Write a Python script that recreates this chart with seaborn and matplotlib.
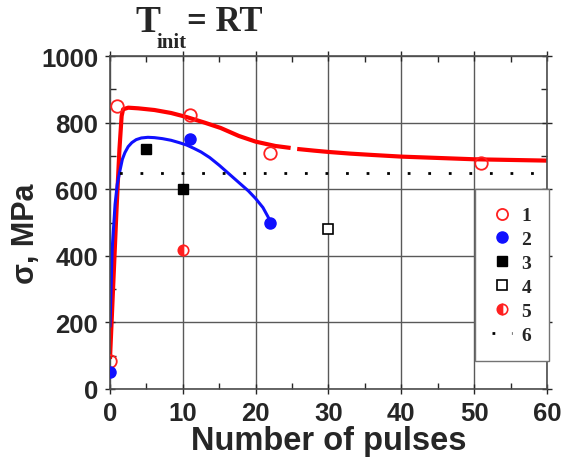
import numpy as np
import matplotlib
matplotlib.use("Agg")
import matplotlib.pyplot as plt
from matplotlib.lines import Line2D
from matplotlib.ticker import MultipleLocator
import seaborn as sns

# measured points (number of pulses, stress in MPa)
s1_x = [0, 1, 11, 22, 51]
s1_y = [85, 850, 823, 710, 680]
s2_x = [0, 11, 22]
s2_y = [50, 752, 500]
s3_x = [5, 10]
s3_y = [720, 600]
s4_x = [30]
s4_y = [482]
s5_x = [10]
s5_y = [418]
level_6 = 650

# fitted curves (red one is broken near 25 pulses)
red_a_x = [0, 0.9, 1.3, 1.6, 1.8, 2.5, 3.9, 6.1, 8.4, 10.5, 13.0, 15.2, 17.7, 20.0, 22.7, 24.8]
red_a_y = [90, 540, 720, 820, 840, 845, 843, 838, 829, 817, 800, 784, 760, 743, 730, 724]
red_b_x = [25.7, 28, 30, 33, 36, 40, 45, 50, 55, 60]
red_b_y = [721, 716, 712, 707, 703, 698, 694, 690, 688, 686]
blue_x = [0, 0.3, 0.7, 1.0, 1.36, 1.7, 2.05, 2.5, 3.0, 3.6, 4.3, 5.2, 6.1, 7.2, 8.4,
          9.5, 10.5, 11.5, 12.5, 13.7, 15.0, 16.3, 17.7, 19.0, 20.0, 21.0, 22.0]
blue_y = [185, 420, 555, 615, 655, 690, 710, 728, 740, 749, 754, 756, 755, 752, 747,
          740, 733, 723, 712, 695, 672, 647, 620, 595, 572, 545, 505]

sns.set_style("ticks")
plt.rcParams['font.family'] = ['Liberation Sans', 'DejaVu Sans']

fig = plt.figure(figsize=(5.71, 4.64), dpi=100)
ax = fig.add_axes([0.1926, 0.1595, 0.7654, 0.7175])

ax.grid(True, which='major', color='0.35', lw=1.0)
ax.set_axisbelow(True)

for cx, cy, col, w in [(red_a_x, red_a_y, '#ff0000', 3), (red_b_x, red_b_y, '#ff0000', 3),
                       (blue_x, blue_y, '#1010ff', 2.2)]:
    sns.lineplot(x=cx, y=cy, ax=ax, color=col, lw=w, sort=False, estimator=None,
                 solid_joinstyle='round', solid_capstyle='butt')
ax.plot([0, 60], [level_6, level_6], color='black', lw=2, ls=(4, (1, 6.4)))

ax.plot(s1_x, s1_y, 'o', ms=9, mfc='none', mec='#ff2020', mew=1.3, ls='none', zorder=5)
ax.plot(s2_x, s2_y, 'o', ms=8, mfc='#1010ff', mec='#1010ff', ls='none', zorder=5)
ax.plot(s3_x, s3_y, 's', ms=7, mfc='black', mec='black', ls='none', zorder=5)
ax.plot(s4_x, s4_y, 's', ms=6.5, mfc='white', mec='black', mew=1.2, ls='none', zorder=5)
ax.plot(s5_x, s5_y, 'o', ms=7.5, fillstyle='left', mfc='#ff2020', mfcalt='white',
        mec='#ff2020', mew=1.2, ls='none', zorder=5)

ax.set_xlim(0, 60)
ax.set_ylim(0, 1000)
ax.xaxis.set_major_locator(MultipleLocator(10))
ax.xaxis.set_minor_locator(MultipleLocator(5))
ax.yaxis.set_major_locator(MultipleLocator(200))
ax.yaxis.set_minor_locator(MultipleLocator(100))
ax.tick_params(which='major', direction='inout', length=7, width=1, top=True, right=True,
               labelsize=18.5, pad=5)
ax.tick_params(which='minor', direction='in', length=4, width=1, top=True, right=True)
for lab in ax.get_xticklabels() + ax.get_yticklabels():
    lab.set_fontweight('bold')
for sp in ax.spines.values():
    sp.set_visible(True)
    sp.set_color('0.3')
    sp.set_linewidth(1.2)

ax.set_xlabel('Number of pulses', fontsize=23.5, fontweight='bold', labelpad=0)
ax.set_ylabel('σ, MPa', fontsize=22, fontweight='bold')
ax.yaxis.set_label_coords(-0.158, 0.47)

# legend
handles = [
    Line2D([], [], marker='o', ms=8, mfc='none', mec='#ff2020', mew=1.3, ls='none'),
    Line2D([], [], marker='o', ms=8, mfc='#1010ff', mec='#1010ff', ls='none'),
    Line2D([], [], marker='s', ms=7, mfc='black', mec='black', ls='none'),
    Line2D([], [], marker='s', ms=6.5, mfc='white', mec='black', mew=1.2, ls='none'),
    Line2D([], [], marker='o', ms=7.5, fillstyle='left', mfc='#ff2020', mfcalt='white',
           mec='#ff2020', mew=1.2, ls='none'),
    Line2D([], [], color='black', lw=2, ls=(0, (1, 6.0))),
]
leg = ax.legend(handles, ['1', '2', '3', '4', '5', '6'], loc='upper left',
                bbox_to_anchor=(0.835, 0.60), frameon=True, fancybox=False,
                edgecolor='0.45', framealpha=1, handlelength=1.0, handletextpad=0.5,
                labelspacing=0.32, borderpad=0.9, borderaxespad=0,
                prop={'family': 'Liberation Serif', 'weight': 'bold', 'size': 14})
leg.get_frame().set_linewidth(1.0)

# title T_init = RT
fig.text(0.238, 0.952, 'T', fontsize=27, fontweight='bold', family='Liberation Serif',
         ha='left', va='center')
fig.text(0.274, 0.908, 'init', fontsize=15, fontweight='bold', family='Liberation Serif',
         ha='left', va='center')
fig.text(0.327, 0.952, '= RT', fontsize=25, fontweight='bold', family='Liberation Serif',
         ha='left', va='center')

fig.savefig('out.png', dpi=100)
